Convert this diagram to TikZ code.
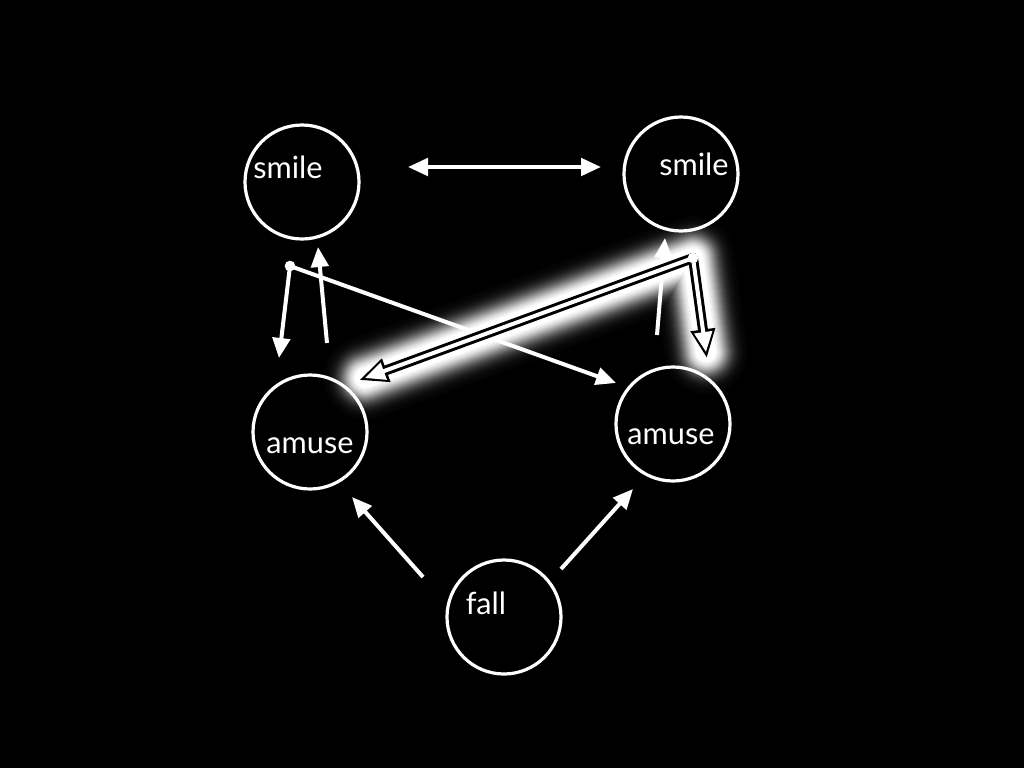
\documentclass[tikz,border=0pt]{standalone}
\usepackage{fontspec}
\setmainfont{Lato}
\usetikzlibrary{arrows.meta,calc}
\begin{document}
\begin{tikzpicture}[x=0.75pt,y=-0.75pt,
  ring/.style={circle,draw=white,line width=2.4pt,inner sep=0pt,minimum size=85.5pt},
  txt/.style={text=white,anchor=base,inner sep=0pt,font=\fontsize{23pt}{27pt}\selectfont},
  arr/.style={white,line width=3pt,-{Triangle[length=15pt,width=13pt]}},
  dotst/.style={circle,fill=white,inner sep=0pt,minimum size=8pt}]
\useasboundingbox (0,0) rectangle (1024,768);
\fill[black] (0,0) rectangle (1024,768);
% connector end points
\coordinate (hL) at (408,167);
\coordinate (hR) at (601,167);
\coordinate (d1) at (290,266);
\coordinate (d1t) at (279,358);
\coordinate (u1s) at (327,343);
\coordinate (u1t) at (318,247);
\coordinate (x1t) at (616,383);
\coordinate (u2s) at (657,335);
\coordinate (u2t) at (665,238);
\coordinate (d2) at (693,258);
\coordinate (d2t) at (706,352);
\coordinate (g2t) at (365,378);
\coordinate (fLs) at (423,577);
\coordinate (fLt) at (352,497);
\coordinate (fRs) at (561,569);
\coordinate (fRt) at (633,489);
% glow (solid grey bands, widest first)
\foreach \w/\p in {84/1.1,82/1.4,80/1.8,78/2.3,76/3,74/3.7,72/4.7,70/5.8,68/7.1,66/8.7,64/10.5,62/12.6,60/15.1,58/17.9,56/21,54/24.4,52/28.1,50/32.3,48/36.8,46/41.5,44/46.5,42/51.7,40/57,38/62.3,36/67.7,34/72.9,32/77.9,30/82.6,28/86.9,26/90.7,24/93.9,22/96.5,20/100}{
  \draw[white!\p!black,line width=\w*0.75pt,line cap=round,line join=round] (g2t) -- (d2) -- (d2t);
}
% circles
\node[ring] (s1) at (302,182) {};
\node[ring] (s2) at (681,174) {};
\node[ring] (a1) at (310,432) {};
\node[ring] (a2) at (673,424) {};
\node[ring] (f)  at (504,617) {};
% labels
\node[txt] (ls1) at (288,178) {smile};
\node[txt] (ls2) at (694,175) {smile};
\node[txt] (la1) at (310,453) {amuse};
\node[txt] (la2) at (671,444) {amuse};
\node[txt] (lf)  at (486,614) {fall};
% plain arrows
\draw[arr,{Triangle[length=15pt,width=13pt]}-{Triangle[length=15pt,width=13pt]}] (hL) -- (hR);
\draw[arr] (d1) -- (d1t);
\draw[arr] (u1s) -- (u1t);
\draw[arr] (d1) -- (x1t);
\node[dotst] (dot1) at (d1) {};
\draw[arr] (u2s) -- (u2t);
\draw[arr] (fLs) -- (fLt);
\draw[arr] (fRs) -- (fRt);
% black outline of the glowing arrows
\foreach \T in {g2t,d2t}{
  \coordinate (TT) at ($(\T)!-4pt!(d2)$);
  \coordinate (BB) at ($(\T)!17pt!(d2)$);
  \fill[black] (TT) -- ($(BB)!9.5pt!90:(\T)$) -- ($(BB)!9.5pt!-90:(\T)$) -- cycle;
  \draw[black,line width=7.5pt,line cap=round,line join=round] (d2) -- (BB);
}
% glowing arrows themselves
\draw[arr] (d2) -- (g2t);
\draw[arr] (d2) -- (d2t);
\node[dotst] (dot2) at (d2) {};
\end{tikzpicture}
\end{document}
